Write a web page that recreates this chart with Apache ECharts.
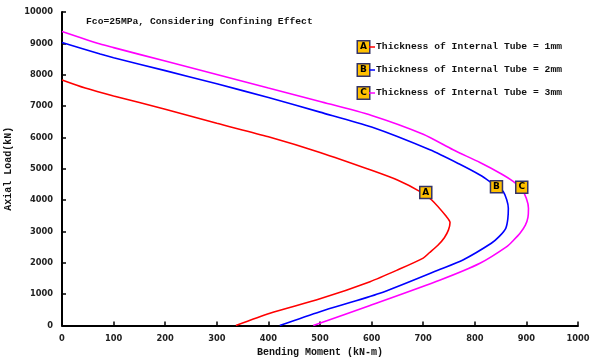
<!DOCTYPE html>
<html><head><meta charset="utf-8">
<script src="https://cdn.jsdelivr.net/npm/echarts@6/dist/echarts.min.js"></script>
<style>html,body{margin:0;padding:0;background:#fff}#c{width:596px;height:361px}</style>
</head><body><div id="c"></div>
<script>
var titleText = 'Fco=25MPa, Considering Confining Effect';
var xName = 'Bending Moment (kN-m)';
var yName = 'Axial Load(kN)';
var seriesNames = ['Thickness of Internal Tube = 1mm','Thickness of Internal Tube = 2mm','Thickness of Internal Tube = 3mm'];
var seriesLetters = ['A','B','C'];
var seriesColors = ['#ff0000','#0000ff','#ff00ff'];

var momentA = [0, 45, 100, 200, 300, 400, 500, 600, 650, 694, 716, 745, 752, 749, 741, 728, 712, 700, 650, 597, 500, 403, 337];
var loadA   = [7830, 7573, 7320, 6900, 6450, 6020, 5520, 4950, 4640, 4272, 4010, 3474, 3283, 3050, 2800, 2550, 2320, 2150, 1770, 1399, 850, 390, 0];

var momentB = [0, 74, 100, 200, 300, 400, 500, 600, 713, 770, 810, 829, 855, 865, 864, 860, 848, 832, 777, 733, 616, 500, 422];
var loadB   = [9030, 8660, 8543, 8130, 7710, 7270, 6806, 6330, 5604, 5150, 4800, 4591, 4272, 3742, 3400, 3100, 2850, 2624, 2091, 1794, 1028, 441, 0];

var momentC = [0, 74, 100, 200, 300, 400, 500, 600, 700, 758, 810, 850, 875, 891, 900, 904, 903, 898, 888, 875, 862, 810, 733, 597, 487];
var loadC   = [9380, 8978, 8864, 8434, 8005, 7575, 7147, 6700, 6100, 5604, 5200, 4850, 4591, 4350, 4050, 3742, 3450, 3200, 2950, 2720, 2517, 1986, 1453, 640, 0];

var labelMoment = [705, 842, 891];
var labelLoad   = [4240, 4422, 4413];

var xTicks = [0,100,200,300,400,500,600,700,800,900,1000];
var yTicks = [0,1000,2000,3000,4000,5000,6000,7000,8000,9000,10000];

function zip(a,b){return a.map(function(v,i){return [v,b[i]];});}
var curves = [zip(momentA,loadA), zip(momentB,loadB), zip(momentC,loadC)];

var boxStyle = {backgroundColor:'#FFC000', borderColor:'#333366', borderWidth:1.5, width:11, height:11, align:'center', verticalAlign:'middle', lineHeight:12, fontWeight:'bold', fontFamily:'DejaVu Sans', fontSize:9, color:'#000'};
var legendRich = {t:{fontFamily:'Liberation Mono', fontWeight:'bold', fontSize:9.7, color:'#111', padding:[0,0,0,1]}};
seriesColors.forEach(function(c,i){
  legendRich['b'+i] = boxStyle;
  legendRich['l'+i] = {width:6, height:1.5, backgroundColor:c};
});

var series = [];
curves.forEach(function(d,i){
  series.push({
    name: seriesNames[i], type:'line', data:d, showSymbol:false, smooth:0.25,
    lineStyle:{color:seriesColors[i], width:1.6}, itemStyle:{color:seriesColors[i]}, z:2, animation:false
  });
});
series.push({
  type:'scatter', data: labelMoment.map(function(m,i){return [m,labelLoad[i],seriesLetters[i]];}),
  symbol:'rect', symbolSize:12,
  itemStyle:{color:'#FFC000', borderColor:'#333366', borderWidth:1.5, opacity:1},
  label:{show:true, position:'inside', formatter:function(p){return p.data[2];}, fontFamily:'DejaVu Sans', fontWeight:'bold', fontSize:9, color:'#000'},
  z:5, animation:false, silent:true
});

var chart = echarts.init(document.getElementById('c'), null, {renderer:'canvas'});
chart.setOption({
  animation:false,
  backgroundColor:'#fff',
  title:{text:titleText, left:81, top:12, textStyle:{fontFamily:'Liberation Mono', fontWeight:'bold', fontSize:9.7, color:'#111'}},
  legend:{
    orient:'vertical', left:348, top:35, itemGap:9, itemWidth:0, itemHeight:14, icon:'none',
    data: seriesNames,
    formatter:function(name){var i=seriesNames.indexOf(name);return '{b'+i+'|'+seriesLetters[i]+'}{l'+i+'|}{t|'+name+'}';},
    textStyle:{rich:legendRich}
  },
  grid:{left:62, right:18, top:12, bottom:35.5, containLabel:false, outerBoundsMode:'none'},
  xAxis:{
    type:'value', min:0, max:1000, interval:100,
    name:xName, nameLocation:'middle', nameGap:20,
    nameTextStyle:{fontFamily:'Liberation Mono', fontWeight:'bold', fontSize:10, color:'#111'},
    axisLine:{show:true, lineStyle:{color:'#000', width:2}},
    axisTick:{show:true, inside:true, length:4, lineStyle:{color:'#000', width:1.5}},
    axisLabel:{fontFamily:'DejaVu Sans', fontWeight:'bold', fontSize:8.3, color:'#222', margin:9, formatter:function(v){return xTicks.indexOf(v)>=0?String(v):'';}},
    splitLine:{show:false}
  },
  yAxis:{
    type:'value', min:0, max:10000, interval:1000,
    name:yName, nameLocation:'middle', nameGap:44, nameRotate:90,
    nameTextStyle:{fontFamily:'Liberation Mono', fontWeight:'bold', fontSize:10, color:'#111'},
    axisLine:{show:true, lineStyle:{color:'#000', width:2}},
    axisTick:{show:true, inside:true, length:4, lineStyle:{color:'#000', width:1.5}},
    axisLabel:{fontFamily:'DejaVu Sans', fontWeight:'bold', fontSize:8.3, color:'#222', margin:9, formatter:function(v){return yTicks.indexOf(v)>=0?String(v):'';}},
    splitLine:{show:false}
  },
  series:series
});
</script></body></html>
